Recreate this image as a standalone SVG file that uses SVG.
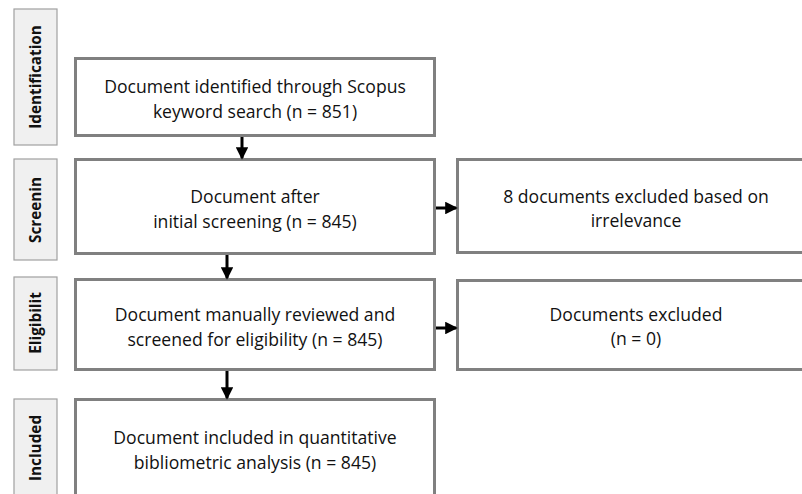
<svg xmlns="http://www.w3.org/2000/svg" width="802" height="494" viewBox="0 0 802 494">
<style>
.side{fill:#f0f0f0;stroke:#a0a0a0;stroke-width:1.2}
.box{fill:#fff;stroke:#808080;stroke-width:3}
.sl{font-family:"Open Sans","Liberation Sans",sans-serif;font-weight:bold;font-size:15.3px;fill:#111;text-anchor:middle}
.t{font-family:"Open Sans","Liberation Sans",sans-serif;font-size:17.6px;fill:#111;text-anchor:middle}
.c{stroke:#000;stroke-width:3;fill:none}
</style>
<defs>
<marker id="ah" markerWidth="4.2" markerHeight="4.2" refX="3.6" refY="2.1" orient="auto" markerUnits="strokeWidth">
<path d="M0,0 L4.2,2.1 L0,4.2 Z" fill="#000"/>
</marker>
</defs>
<rect width="802" height="494" fill="#fff"/>
<g id="lab-identification"><rect class="side" x="14" y="9" width="43" height="136"/><text class="sl" transform="translate(41,77) rotate(-90)">Identification</text></g>
<g id="lab-screening"><rect class="side" x="14" y="159" width="43" height="101"/><text class="sl" transform="translate(41,210) rotate(-90)">Screenin</text></g>
<g id="lab-eligibility"><rect class="side" x="14" y="277" width="43" height="93"/><text class="sl" transform="translate(41,323) rotate(-90)">Eligibilit</text></g>
<g id="lab-included"><rect class="side" x="14" y="399" width="43" height="100"/><text class="sl" transform="translate(41,448) rotate(-90)">Included</text></g>
<g id="n1"><rect class="box" x="75.5" y="58.5" width="359" height="77"/><text class="t" x="255" y="93">Document identified through Scopus</text><text class="t" x="255" y="118">keyword search (n = 851)</text></g>
<g id="n2"><rect class="box" x="75.5" y="159.5" width="359" height="94"/><text class="t" x="255" y="203">Document after</text><text class="t" x="255" y="228">initial screening (n = 845)</text></g>
<g id="n3"><rect class="box" x="457.5" y="159.5" width="350" height="93"/><text class="t" x="636" y="203">8 documents excluded based on</text><text class="t" x="636" y="227">irrelevance</text></g>
<g id="n4"><rect class="box" x="75.5" y="279.5" width="359" height="90"/><text class="t" x="255" y="321">Document manually reviewed and</text><text class="t" x="255" y="346">screened for eligibility (n = 845)</text></g>
<g id="n5"><rect class="box" x="457.5" y="280.5" width="350" height="89"/><text class="t" x="636" y="321">Documents excluded</text><text class="t" x="636" y="345">(n = 0)</text></g>
<g id="n6"><rect class="box" x="75.5" y="399.5" width="359" height="110"/><text class="t" x="255" y="444">Document included in quantitative</text><text class="t" x="255" y="469">bibliometric analysis (n = 845)</text></g>
<g id="connectors">
<line class="c" x1="242" y1="137" x2="242" y2="158" marker-end="url(#ah)"/>
<line class="c" x1="227" y1="255" x2="227" y2="278" marker-end="url(#ah)"/>
<line class="c" x1="227" y1="371" x2="227" y2="398" marker-end="url(#ah)"/>
<line class="c" x1="436" y1="208" x2="456" y2="208" marker-end="url(#ah)"/>
<line class="c" x1="436" y1="328" x2="456" y2="328" marker-end="url(#ah)"/>
</g>
</svg>
